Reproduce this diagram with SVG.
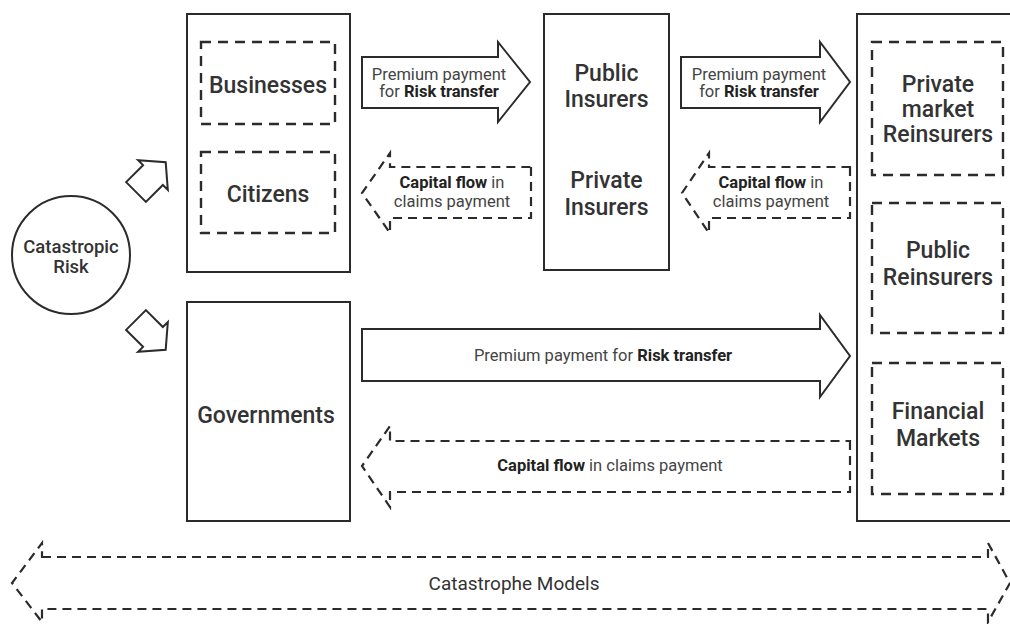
<svg xmlns="http://www.w3.org/2000/svg" width="1010" height="624" viewBox="0 0 1010 624">
<style>
.box{fill:#fff;stroke:#2b2b2b;stroke-width:2}
.dbox{fill:none;stroke:#2b2b2b;stroke-width:2.4;stroke-dasharray:10 7}
.arr{fill:#fff;stroke:#2b2b2b;stroke-width:2;stroke-linejoin:miter}
.darr{fill:none;stroke:#2b2b2b;stroke-width:2.2;stroke-dasharray:9 6}
text{font-family:Roboto,"Liberation Sans",sans-serif;text-anchor:middle}
.lbl{font-size:23px;font-weight:500;fill:#333}
.sm{font-size:16.5px;fill:#444}
.b{font-weight:700;fill:#222}
</style>
<rect width="1010" height="624" fill="#fff"/>

<g id="connectors">
  <path class="arr" d="M0,-14 L24,-14 L24,-21 L42,0 L24,21 L24,14 L0,14 Z" transform="translate(136,192) rotate(-45)"/>
  <path class="arr" d="M0,-14 L24,-14 L24,-21 L42,0 L24,21 L24,14 L0,14 Z" transform="translate(136,320) rotate(45)"/>
  <g id="premium1">
    <path class="arr" d="M362,57 L498,57 L498,42 L530,82 L498,122 L498,108 L362,108 Z"/>
    <text class="sm" x="439" y="80">Premium payment</text>
    <text class="sm" x="439" y="97">for <tspan class="b">Risk transfer</tspan></text>
  </g>
  <g id="premium2">
    <path class="arr" d="M681,57 L820,57 L820,42 L850,82 L820,122 L820,108 L681,108 Z"/>
    <text class="sm" x="759" y="80">Premium payment</text>
    <text class="sm" x="759" y="97">for <tspan class="b">Risk transfer</tspan></text>
  </g>
  <g id="capital1">
    <path class="darr" d="M531,167 L531,218 L390,218 L390,233 L362,193 L390,153 L390,167 Z"/>
    <text class="sm" x="452" y="188"><tspan class="b">Capital flow</tspan> in</text>
    <text class="sm" x="452" y="207">claims payment</text>
  </g>
  <g id="capital2">
    <path class="darr" d="M850,167 L850,218 L709,218 L709,233 L682,193 L709,153 L709,167 Z"/>
    <text class="sm" x="771" y="188"><tspan class="b">Capital flow</tspan> in</text>
    <text class="sm" x="771" y="207">claims payment</text>
  </g>
  <g id="premium3">
    <path class="arr" d="M362,329 L820,329 L820,315 L850,356 L820,397 L820,381 L362,381 Z"/>
    <text class="sm" x="603" y="361">Premium payment for <tspan class="b">Risk transfer</tspan></text>
  </g>
  <g id="capital3">
    <path class="darr" d="M850,441 L850,492 L390,492 L390,507 L362,466 L390,426 L390,441 Z"/>
    <text class="sm" x="610" y="471"><tspan class="b">Capital flow</tspan> in claims payment</text>
  </g>
  <g id="catmodels">
    <path class="darr" d="M42,557 L988,557 L988,543 L1010,583 L988,622 L988,609 L42,609 L42,622 L12,583 L42,543 Z"/>
    <text x="514" y="590" style="font-size:19px;fill:#333">Catastrophe Models</text>
  </g>
</g>

<g id="risk">
  <circle cx="71" cy="255" r="59" fill="#fff" stroke="#2b2b2b" stroke-width="2"/>
  <text x="71" y="253" style="font-size:18.5px;font-weight:500;fill:#333">Catastropic</text>
  <text x="71" y="273" style="font-size:18.5px;font-weight:500;fill:#333">Risk</text>
</g>

<g id="private-sector">
  <rect class="box" x="187" y="14" width="163" height="258"/>
</g>
<g id="businesses">
  <rect class="dbox" x="201" y="42" width="134" height="82"/>
  <text class="lbl" x="268" y="93">Businesses</text>
</g>
<g id="citizens">
  <rect class="dbox" x="201" y="152" width="134" height="81"/>
  <text class="lbl" x="268" y="202">Citizens</text>
</g>

<g id="governments">
  <rect class="box" x="187" y="302" width="163" height="219"/>
  <text class="lbl" x="266" y="423">Governments</text>
</g>

<g id="insurers">
  <rect class="box" x="544" y="14" width="125" height="256"/>
  <text class="lbl" x="606.5" y="81">Public</text>
  <text class="lbl" x="606.5" y="107">Insurers</text>
  <text class="lbl" x="606.5" y="188">Private</text>
  <text class="lbl" x="606.5" y="215">Insurers</text>
</g>

<g id="reinsurance">
  <rect class="box" x="857" y="14" width="170" height="507"/>
</g>
<g id="private-reinsurers">
  <rect class="dbox" x="872" y="42" width="131" height="133"/>
  <text class="lbl" x="938" y="92">Private</text>
  <text class="lbl" x="938" y="117">market</text>
  <text class="lbl" x="938" y="142">Reinsurers</text>
</g>
<g id="public-reinsurers">
  <rect class="dbox" x="872" y="203" width="131" height="130"/>
  <text class="lbl" x="938" y="258">Public</text>
  <text class="lbl" x="938" y="285">Reinsurers</text>
</g>
<g id="financial-markets">
  <rect class="dbox" x="872" y="363" width="131" height="131"/>
  <text class="lbl" x="938" y="419">Financial</text>
  <text class="lbl" x="938" y="446">Markets</text>
</g>
</svg>
